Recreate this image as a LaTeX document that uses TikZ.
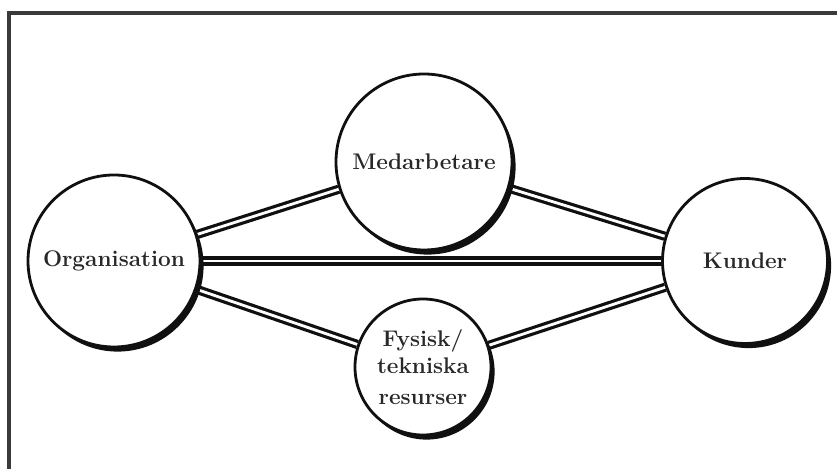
\documentclass[tikz,border=0pt]{standalone}
\usepackage{tikz}
\usetikzlibrary{backgrounds,shadows}
\definecolor{ink}{HTML}{101010}
\definecolor{framegray}{HTML}{3A3A3A}
\tikzset{
  % cirklar
  bub/.style={circle,draw=ink,fill=white,line width=1.4pt,inner sep=0pt,
              font=\fontsize{11.3}{13.5}\selectfont\bfseries,text=ink!90,
              drop shadow={shadow xshift=1.8pt,shadow yshift=-2.3pt,opacity=1,fill=ink}},
  % förbindelser
  link/.style={draw=ink,double=white,line width=1.6pt,double distance=1.4pt},
  ram/.style={draw=framegray,line width=2pt},
}
\begin{document}
\begin{tikzpicture}[x=0.5pt,y=-0.5pt]
  \useasboundingbox (0,0) rectangle (837,469);
  \draw[ram] (9,13) rectangle (860,490);
  \node[bub,minimum size=86pt] (org) at (114,261) {Organisation};
  \node[bub,minimum size=88pt] (med) at (424,162) {Medarbetare};
  \node[bub,minimum size=82.5pt] (kun) at (745,261) {Kunder};
  \node[bub,minimum size=68pt,align=center] (fys) at (423,367)
    {Fysisk/\\tekniska\\[2pt]resurser};
  \begin{scope}[on background layer]
  \draw[link] (org) -- (med);
  \draw[link] (med) -- (kun);
  \draw[link] (org) -- (kun);
  \draw[link] (org) -- (fys);
  \draw[link] (fys) -- (kun);
  \end{scope}
\end{tikzpicture}
\end{document}
